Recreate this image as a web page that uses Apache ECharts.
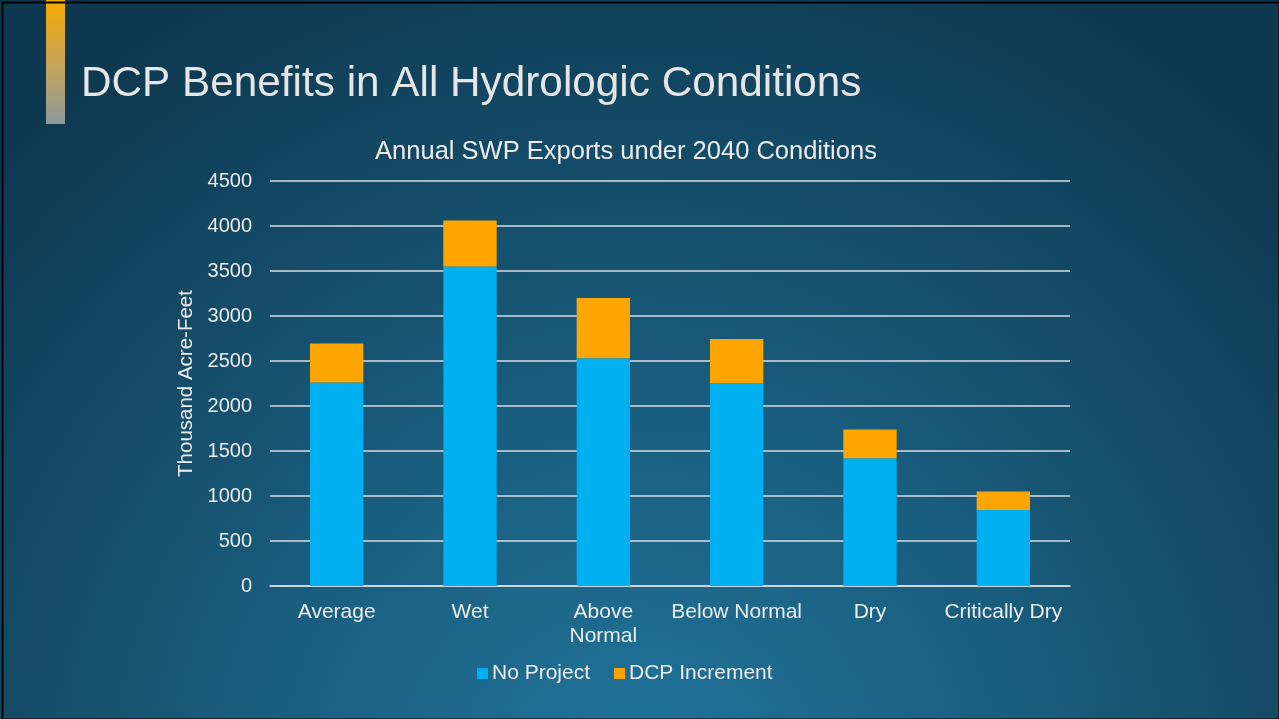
<!DOCTYPE html>
<html><head><meta charset="utf-8">
<script src="https://cdn.jsdelivr.net/npm/echarts@6/dist/echarts.min.js"></script>
<style>html,body{margin:0;padding:0;background:#000;}#c{width:1279px;height:719px;}</style>
</head><body><div id="c"></div>
<script>
const categories = ['Average','Wet','Above\nNormal','Below Normal','Dry','Critically Dry'];
const noProject = [2260, 3550, 2530, 2255, 1420, 845];
const dcpIncrement = [435, 510, 670, 490, 320, 205];
const yTicks = {min:0, max:4500, interval:500};

const chart = echarts.init(document.getElementById('c'));
const font = 'Liberation Sans, Arial, sans-serif';
chart.setOption({
  backgroundColor: {type:'radial', x:0.5, y:1.1, r:1.25, colorStops:[
    {offset:0, color:'#21759c'},{offset:0.45, color:'#195c7c'},{offset:1, color:'#0e3850'}]},
  textStyle:{fontFamily:font},
  title:[{text:'DCP Benefits in All Hydrologic Conditions', left:76, top:58,
    textStyle:{color:'#e6e6e6', fontSize:42.3, fontWeight:'normal', fontFamily:font}},
    {text:'Annual SWP Exports under 2040 Conditions', left:621, textAlign:'center', top:134,
    textStyle:{color:'#ececec', fontSize:25.5, fontWeight:'normal', fontFamily:font}}],
  graphic:[
    {type:'rect', left:46, top:0, shape:{width:19, height:124}, style:{fill:{type:'linear',x:0,y:0,x2:0,y2:1,colorStops:[{offset:0,color:'#f7a900'},{offset:0.5,color:'#c9a455'},{offset:1,color:'#8c9b9b'}]}}, z:10},
    {type:'rect', left:0, top:0, shape:{x:1,y:1,width:1277, height:717}, style:{fill:'none', stroke:'#000', lineWidth:2}, z:20}
  ],
  legend:{bottom:30, left:472, itemWidth:11, itemHeight:11, itemGap:24, icon:'rect',
    textStyle:{color:'#ececec', fontSize:21, fontFamily:font, padding:[0,0,0,-1]},
    data:['No Project','DCP Increment']},
  grid:{left:270, right:209, top:181, bottom:133},
  xAxis:{type:'category', data:categories, axisTick:{show:false},
    axisLine:{lineStyle:{color:'#d9dde0', width:1.5}},
    axisLabel:{color:'#ececec', fontSize:21, margin:14, lineHeight:24, fontFamily:font, interval:0}},
  yAxis:{type:'value', min:yTicks.min, max:yTicks.max, interval:yTicks.interval,
    name:'Thousand Acre-Feet', nameLocation:'middle', nameGap:67, nameRotate:90,
    nameTextStyle:{color:'#ececec', fontSize:20.5, fontFamily:font},
    axisLine:{show:false}, axisTick:{show:false},
    axisLabel:{color:'#ececec', fontSize:20, margin:18, fontFamily:font, formatter:v=>String(v)},
    splitLine:{lineStyle:{color:'#d9dde0', width:1.5}}},
  series:[
    {name:'No Project', type:'bar', stack:'a', data:noProject, barWidth:'40%', itemStyle:{color:'#00b0f0'}},
    {name:'DCP Increment', type:'bar', stack:'a', data:dcpIncrement, itemStyle:{color:'#ffa500'}}
  ]
});
</script></body></html>
